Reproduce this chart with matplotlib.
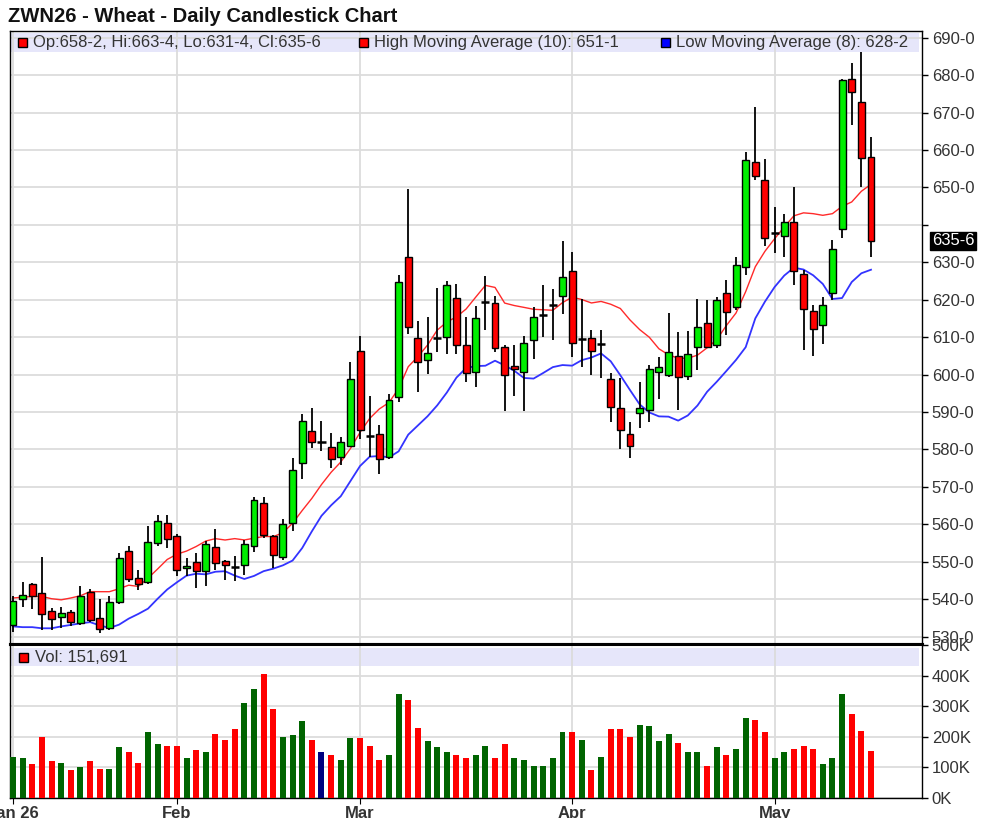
import numpy as np
import pandas as pd
import matplotlib
matplotlib.use('Agg')
import matplotlib.pyplot as plt
from matplotlib.patches import Rectangle
from matplotlib.transforms import blended_transform_factory

plt.rcParams['font.family'] = ['Liberation Sans', 'DejaVu Sans']

title = 'ZWN26 - Wheat - Daily Candlestick Chart'

# daily bars, oldest first (cents/bushel)
opens = [533.1, 540.1, 544.1, 541.6, 536.7, 535.1, 536.5, 533.6, 542.0, 534.9,
         532.2, 539.2, 552.8, 545.6, 544.6, 555.0, 560.4, 556.8, 548.3, 549.8,
         547.4, 553.9, 550.2, 548.5, 549.2, 554.1, 565.7, 556.8, 551.2, 560.2,
         576.3, 585.0, 582.0, 580.6, 578.0, 580.8, 606.2, 583.5, 584.0, 578.0,
         594.0, 631.5, 609.7, 603.8, 609.7, 610.0, 620.5, 607.8, 600.8, 619.5,
         619.1, 607.3, 602.4, 600.8, 609.1, 616.0, 618.6, 620.9, 627.8, 609.4,
         609.8, 608.1, 598.8, 591.0, 584.0, 589.6, 590.5, 600.7, 599.9, 604.9,
         599.7, 607.4, 613.8, 607.9, 621.7, 618.1, 628.8, 656.8, 652.0, 637.7,
         637.0, 640.8, 627.0, 617.0, 613.2, 621.9, 639.0, 678.9, 672.9, 658.25]
highs = [540.7, 544.6, 544.4, 551.2, 537.6, 538.0, 537.1, 543.4, 542.7, 540.1,
         540.7, 552.3, 554.1, 547.9, 559.5, 562.6, 562.6, 557.5, 551.0, 552.3,
         555.4, 558.6, 550.5, 551.6, 555.9, 567.3, 567.3, 557.0, 561.3, 577.8,
         589.4, 591.0, 587.5, 584.4, 583.3, 603.3, 610.4, 594.4, 586.6, 594.9,
         626.6, 649.6, 614.4, 615.3, 623.1, 625.1, 624.2, 615.3, 618.4, 626.3,
         621.1, 607.8, 607.8, 610.4, 618.0, 623.8, 622.9, 635.7, 632.8, 620.2,
         611.9, 611.9, 600.3, 599.0, 587.4, 598.1, 602.5, 604.8, 616.5, 611.3,
         611.7, 620.3, 619.9, 620.8, 625.2, 631.5, 659.5, 671.5, 657.7, 644.8,
         643.0, 650.2, 627.9, 618.6, 620.8, 635.9, 679.0, 683.3, 686.2, 663.5]
lows = [531.3, 537.8, 537.3, 531.8, 531.8, 532.2, 532.9, 533.1, 533.8, 530.9,
        531.8, 538.8, 544.7, 542.3, 544.1, 554.3, 553.7, 546.1, 546.1, 542.9,
        543.4, 547.9, 545.2, 544.9, 546.5, 552.6, 556.3, 548.3, 550.5, 558.1,
        572.0, 580.5, 579.7, 575.1, 575.7, 580.6, 582.8, 578.0, 573.5, 577.5,
        592.6, 610.9, 595.3, 600.2, 606.0, 605.5, 605.5, 598.0, 596.6, 611.8,
        606.0, 590.2, 594.4, 590.2, 604.2, 610.0, 609.1, 616.2, 604.7, 602.0,
        600.0, 599.0, 587.4, 580.0, 577.6, 585.6, 587.4, 593.6, 599.4, 590.5,
        598.5, 601.2, 607.0, 607.0, 610.5, 617.2, 626.6, 652.1, 634.3, 632.4,
        631.5, 623.9, 606.5, 604.9, 608.1, 619.9, 636.4, 666.6, 650.2, 631.5]
closes = [539.6, 541.0, 540.7, 536.0, 534.6, 536.2, 533.8, 540.7, 534.5, 532.0,
          539.1, 551.0, 545.4, 544.1, 555.2, 560.8, 556.1, 547.9, 548.9, 547.4,
          554.7, 549.6, 549.1, 548.5, 554.7, 566.6, 557.1, 551.7, 560.1, 574.5,
          587.6, 582.0, 582.0, 577.5, 582.0, 598.7, 585.2, 583.5, 577.5, 593.1,
          624.8, 612.7, 603.3, 605.7, 609.7, 624.0, 607.8, 600.5, 615.1, 619.5,
          607.0, 600.0, 601.5, 608.5, 615.5, 616.0, 618.6, 626.0, 608.5, 609.4,
          606.3, 608.1, 591.2, 585.2, 581.0, 591.0, 601.4, 602.0, 606.1, 599.4,
          605.6, 612.8, 607.4, 619.9, 616.8, 629.4, 657.3, 653.0, 636.6, 637.7,
          640.8, 627.7, 617.4, 612.1, 618.7, 633.5, 678.7, 675.5, 657.9, 635.75]
volume_k = [134, 130, 109, 200, 119, 115, 90, 100, 119, 95,
            95, 165, 150, 115, 215, 175, 170, 170, 130, 155,
            150, 210, 190, 225, 310, 355, 407, 291, 200, 205,
            250, 190, 150, 140, 125, 196, 196, 170, 125, 140,
            341, 320, 230, 185, 165, 150, 140, 130, 140, 170,
            130, 175, 130, 125, 105, 105, 130, 215, 215, 190,
            90, 135, 225, 225, 200, 240, 235, 185, 210, 180,
            150, 150, 105, 165, 140, 160, 260, 256, 215, 130,
            150, 160, 170, 160, 110, 130, 341, 275, 220, 151.691]

# moving averages before enough bars are on screen
high_ma_head = [540.3, 540.5, 540.7, 540.7, 540.1, 539.8, 540.3, 540.9, 542.0]
low_ma_head = [532.7, 532.5, 532.5, 532.2, 532.2, 532.7, 533.1]
high_ma_last = 651.125
low_ma_last = 628.25

month_pos = [0, 17, 36, 58, 79]
month_labels = ['Jan 26', 'Feb', 'Mar', 'Apr', 'May']


def fmt(p):
    whole = int(p)
    return '%d-%d' % (whole, round((p - whole) * 8))


df = pd.DataFrame({'o': opens, 'h': highs, 'l': lows, 'c': closes,
                   'v': np.array(volume_k) * 1000})
x = np.arange(len(df))
hma = df['h'].rolling(10).mean().values
hma[:len(high_ma_head)] = high_ma_head
lma = df['l'].rolling(8).mean().values
lma[:len(low_ma_head)] = low_ma_head

W, H = 995, 818
fig = plt.figure(figsize=(W / 100, H / 100), dpi=100)
left, right = 10 / W, 922 / W
yt, ymid, yb = 1 - 31 / H, 1 - 644 / H, 1 - 797.7 / H
axp = fig.add_axes([left, ymid, right - left, yt - ymid])
axv = fig.add_axes([left, yb, right - left, ymid - yb], sharex=axp)

gridc = '#dcdcdc'
txtc = '#333333'
fs = 12
for ax in (axp, axv):
    ax.set_axisbelow(True)
    ax.grid(True, color=gridc, lw=1.3)
    for s in ax.spines.values():
        s.set_color('black')
        s.set_linewidth(1.0)
    ax.yaxis.tick_right()
    ax.tick_params(axis='y', direction='out', length=4, width=1,
                   labelsize=fs, labelcolor=txtc, pad=3)
axp.spines['bottom'].set_linewidth(2.2)
axv.spines['top'].set_linewidth(2.2)

# price panel
axp.plot(x, hma, color='#ff2a2a', lw=1.0, zorder=2)
axp.plot(x, lma, color='#3333ff', lw=1.3, zorder=2)
axp.vlines(x, df['l'], df['h'], color='black', lw=1.3, zorder=3)
up = df['c'] > df['o']
dn = df['c'] < df['o']
flat = df['c'] == df['o']
axp.bar(x[up], (df['c'] - df['o'])[up], bottom=df['o'][up], width=0.72,
        color='#00ee00', edgecolor='black', lw=1.0, zorder=4)
axp.bar(x[dn], (df['o'] - df['c'])[dn], bottom=df['c'][dn], width=0.72,
        color='#ff0000', edgecolor='black', lw=1.0, zorder=4)
axp.hlines(df['c'][flat], x[flat] - 0.42, x[flat] + 0.42, color='black',
           lw=1.8, zorder=4)

last = closes[-1]
pticks = np.arange(530, 691, 10)
axp.set_yticks(pticks)
axp.set_yticklabels(['' if 0 < v - last < 5 else '%d-0' % v for v in pticks])
axp.set_ylim(528.0, 691.8)
axp.set_xlim(-0.31, 94.29)
plt.setp(axp.get_xticklabels(), visible=False)
axp.tick_params(axis='x', length=0)
axp.text(1.011, last, fmt(last), transform=blended_transform_factory(axp.transAxes, axp.transData),
         color='white', fontsize=fs, va='center', ha='left',
         bbox=dict(boxstyle='square,pad=0.1', fc='black', ec='black'))

# legend band of the price panel
axp.add_patch(Rectangle((0.001, 0.9657), 0.9955, 0.031, transform=axp.transAxes,
                        fc='#e6e6fa', ec='none', zorder=0.2))
legend_items = [
    (18, '#ff0000', 'Op:%s, Hi:%s, Lo:%s, Cl:%s' % (fmt(opens[-1]), fmt(highs[-1]),
                                                    fmt(lows[-1]), fmt(closes[-1]))),
    (359, '#ff0000', 'High Moving Average (10): %s' % fmt(high_ma_last)),
    (661, '#0000ff', 'Low Moving Average (8): %s' % fmt(low_ma_last)),
]
for px, col, label in legend_items:
    fig.patches.append(Rectangle((px / W, 1 - 47 / H), 9 / W, 9 / H, transform=fig.transFigure,
                                 fc=col, ec='black', lw=1.0, figure=fig))
    fig.text((px + 15) / W, 1 - 42.5 / H, label, fontsize=fs, color=txtc, va='center')

fig.text(8 / W, 1 - 17 / H, title, fontsize=14.5, fontweight='bold', color='#111111',
         va='center')

# volume panel
chg = df['c'].diff()
chg.iloc[0] = df['c'].iloc[0] - df['o'].iloc[0]
vcol = np.where(chg > 0, '#006400', np.where(chg < 0, '#ff0000', '#000080'))
axv.bar(x, df['v'], width=0.62, color=vcol, zorder=3)
vticks = np.arange(0, 500001, 100000)
axv.set_yticks(vticks)
axv.set_yticklabels(['%dK' % (v // 1000) for v in vticks])
axv.set_ylim(0, 504000)
axv.set_xticks(month_pos)
axv.set_xticklabels(month_labels, fontweight='bold', fontsize=fs, color=txtc)
axv.tick_params(axis='x', direction='out', length=4, pad=2)
axv.add_patch(Rectangle((0.001, 0.857), 0.9955, 0.117, transform=axv.transAxes,
                        fc='#e6e6fa', ec='none', zorder=0.2))
fig.patches.append(Rectangle((19 / W, 1 - 662 / H), 9 / W, 9 / H, transform=fig.transFigure,
                             fc='#ff0000', ec='black', lw=1.0, figure=fig))
fig.text(35 / W, 1 - 657 / H, 'Vol: {:,}'.format(int(round(volume_k[-1] * 1000))),
         fontsize=fs, color=txtc, va='center')

fig.savefig('out.png', dpi=100)
